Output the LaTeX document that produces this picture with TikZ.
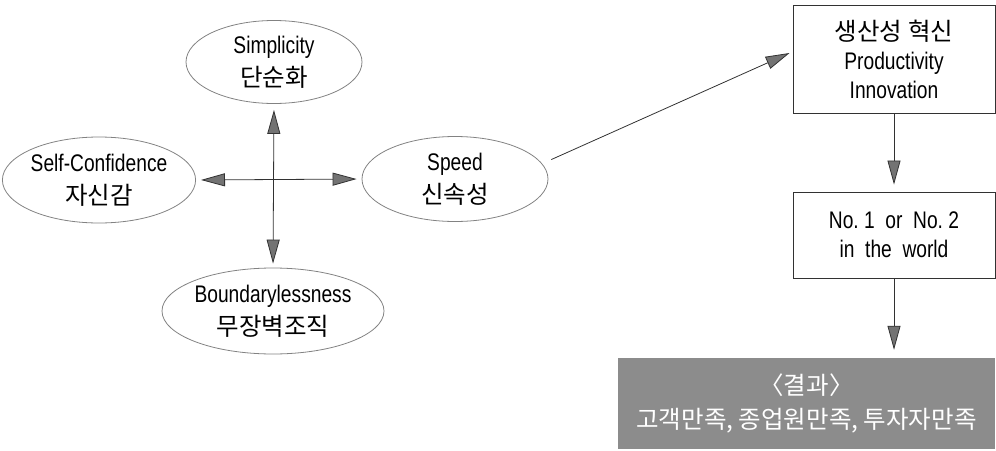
\documentclass[tikz,border=0pt]{standalone}
\usepackage{fontspec}
\newfontfamily\en[FakeStretch=0.8]{Liberation Sans}
\newfontfamily\ko{Noto Sans CJK KR}
\usetikzlibrary{arrows.meta,shapes.geometric,calc}
\newcommand\E[1]{{\en\fontsize{24}{33}\selectfont #1}}
\newcommand\K[1]{{\ko\fontsize{24.5}{33}\selectfont #1}}
\definecolor{ellline}{RGB}{130,130,130}
\definecolor{lineg}{RGB}{50,50,50}
\definecolor{tipgray}{RGB}{115,115,115}
\definecolor{boxgray}{RGB}{140,140,140}
\tikzset{
  ell/.style={ellipse, draw=ellline, line width=0.8pt, inner sep=0pt, align=center,
     font=\fontsize{24}{33}\selectfont},
  rbox/.style={rectangle, draw=lineg, line width=0.9pt, inner sep=0pt, align=center,
     minimum width=202pt, font=\fontsize{24}{29}\selectfont},
  conn/.style={draw=lineg, line width=0.8pt},
  >={Triangle[length=24pt,width=13pt,fill=tipgray]}
}
\begin{document}
\begin{tikzpicture}[x=1pt,y=-1pt]
\useasboundingbox (0,0) rectangle (996,450);
\node[ell, minimum width=176pt, minimum height=83pt] (simp) at (274,62) {\E{Simplicity}\\\K{단순화}};
\node[ell, minimum width=184pt, minimum height=86pt] (conf) at (99,180) {\E{Self-Confidence}\\\K{자신감}};
\node[ell, minimum width=186pt, minimum height=85pt] (speed) at (455,179) {\E{Speed}\\\K{신속성}};
\node[ell, minimum width=222pt, minimum height=86pt] (bound) at (273,311) {\E{Boundarylessness}\\\K{무장벽조직}};

\node[rbox, minimum height=108pt] (box1) at (894,59) {\K{생산성 혁신}\\\E{Productivity}\\\E{Innovation}};
\node[rbox, minimum height=86pt] (box2) at (894,235) {\E{No.\ 1\ \ or\ \ No.\ 2}\\\E{in\ \ the\ \ world}};
\node[rectangle, fill=boxgray, inner sep=0pt, minimum width=377pt, minimum height=91pt,
      align=center, text=white, font=\fontsize{24}{34}\selectfont] (res) at (806.5,403.5)
      {\K{〈결과〉}\\\K{고객만족, 종업원만족, 투자자만족}};

\draw[conn,<->, shorten <=6pt, shorten >=4pt] (simp.south) -- (bound.north);
\draw[conn,<->, shorten <=5pt, shorten >=5pt] (conf.east) -- (speed.west);
\draw[conn,->, shorten <=10pt] (speed.10) -- ($(box1.west)+(-3,-6)$);
\draw[conn,->, shorten >=7pt] (box1.south) -- (box2.north);
\draw[conn,->, shorten >=8pt] (box2.south) -- (res.north -| box2.south);
\end{tikzpicture}
\end{document}
